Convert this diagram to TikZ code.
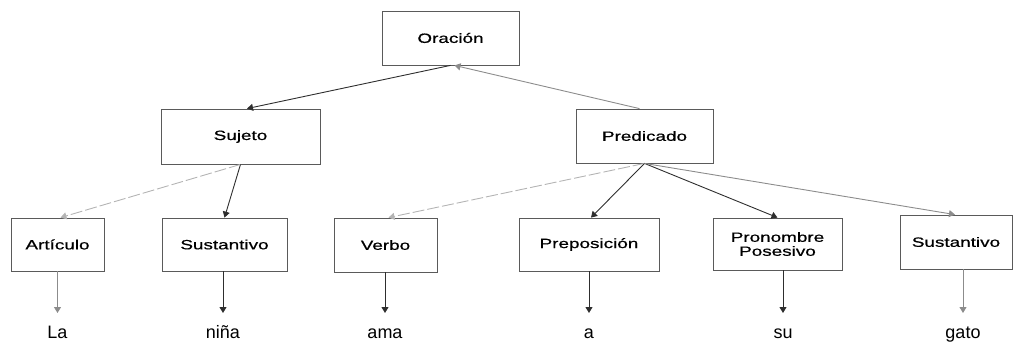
\documentclass[tikz,border=0pt]{standalone}
\usepackage{fontspec}
\setmainfont{Liberation Sans}
\newfontfamily\boxfont[FakeStretch=1.4,FakeBold=0.6]{Liberation Sans}
\usetikzlibrary{arrows.meta}
\definecolor{inkdark}{HTML}{2E2E2E}
\definecolor{inkgray}{HTML}{8C8C8C}
\definecolor{inklight}{HTML}{B4B4B4}
\definecolor{framegray}{HTML}{5A5A5A}
\tikzset{
  catbox/.style={draw=framegray, line width=0.8pt, inner sep=0pt,
    font=\boxfont\fontsize{13.5}{15}\selectfont, align=center},
  word/.style={anchor=base, inner sep=0pt, font=\fontsize{18}{20}\selectfont, text=black},
  tip/.style={-{Triangle[length=6pt,width=7pt]}},
  edge/.style={tip, draw=inkdark, line width=0.9pt},
  edgegray/.style={tip, draw=inkgray, line width=0.9pt},
  edgedash/.style={tip, draw=inklight, line width=0.9pt, dash pattern=on 12pt off 3pt},
}
\begin{document}
\begin{tikzpicture}[x=1pt,y=1pt]
\useasboundingbox (0,0) rectangle (1013,341);

% tree nodes
\node[catbox, minimum width=137pt, minimum height=54pt] (orac) at (450.5,303) {Oración};
\node[catbox, minimum width=159pt, minimum height=55pt] (suj) at (240.5,204.5) {Sujeto};
\node[catbox, minimum width=137pt, minimum height=54pt] (pred) at (644.5,205) {Predicado};

\node[catbox, minimum width=93pt, minimum height=53pt] (art) at (57.5,96.5) {Artículo};
\node[catbox, minimum width=125pt, minimum height=53pt] (susA) at (224.5,96.5) {Sustantivo};
\node[catbox, minimum width=103pt, minimum height=54pt] (verb) at (385.5,96) {Verbo};
\node[catbox, minimum width=140pt, minimum height=53pt] (prep) at (589,96.5) {Preposición};
\node[catbox, minimum width=129pt, minimum height=52pt] (pron) at (777.5,97) {Pronombre\\[-1pt]Posesivo};
\node[catbox, minimum width=112pt, minimum height=54pt] (susB) at (956,99) {Sustantivo};

% words of the sentence
\node[word] (wLa) at (57.5,2.5) {La};
\node[word] (wNina) at (223,2.5) {niña};
\node[word] (wAma) at (385,2.5) {ama};
\node[word] (wA) at (589,2.5) {a};
\node[word] (wSu) at (783,2.5) {su};
\node[word] (wGato) at (963,2.5) {gato};

% arrow ends above the words
\coordinate (tLa) at (57.5,28);
\coordinate (tNina) at (223,28);
\coordinate (tAma) at (385,28);
\coordinate (tA) at (589,28);
\coordinate (tSu) at (783,28);
\coordinate (tGato) at (963,28);

% upper branches
\draw[edge] (orac.south) -- ([xshift=6.5pt]suj.north);
\draw[edgegray] ([xshift=-5pt]pred.north) -- ([xshift=4pt]orac.south);

% Sujeto branches
\draw[edgedash] (suj.south) -- ([xshift=3pt]art.north);
\draw[edge] (suj.south) -- (susA.north);

% Predicado branches
\draw[edgedash] (pred.south) -- ([xshift=3pt]verb.north);
\draw[edge] (pred.south) -- ([xshift=2pt]prep.north);
\draw[edge] (pred.south) -- (pron.north);
\draw[edgegray] (pred.south) -- ([xshift=-1pt]susB.north);

% leaves to words
\draw[edgegray] (art.south -| tLa) -- (tLa);
\draw[edge] (susA.south -| tNina) -- (tNina);
\draw[edge] (verb.south -| tAma) -- (tAma);
\draw[edge] (prep.south -| tA) -- (tA);
\draw[edge] (pron.south -| tSu) -- (tSu);
\draw[edgegray] (susB.south -| tGato) -- (tGato);
\end{tikzpicture}
\end{document}
